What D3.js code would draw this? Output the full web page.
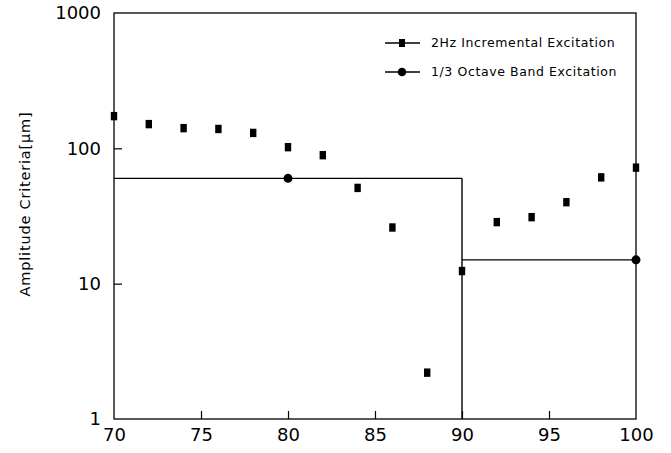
<!DOCTYPE html>
<html>
<head>
<meta charset="utf-8">
<script src="https://cdn.jsdelivr.net/npm/d3@7"></script>
<style>
  html, body { margin: 0; padding: 0; background: #fff; }
  svg { display: block; }
  text { font-family: "DejaVu Sans", sans-serif; fill: #000; }
</style>
</head>
<body>
<svg id="chart" width="671" height="453"></svg>
<script>
// ---- data ----
const freq2Hz = [70, 72, 74, 76, 78, 80, 82, 84, 86, 88, 90, 92, 94, 96, 98, 100];
const amp2Hz  = [173, 151, 141, 139, 130, 102, 89, 51, 26, 2.2, 12.4, 28.5, 31, 40, 61, 72];
const octaveFreq = [80, 100];
const octaveAmp  = [60, 15];
const bandEdges  = [70, 90, 100];
const bandLevels = [60, 15];
const xTicks = [70, 75, 80, 85, 90, 95, 100];
const yTicks = [1, 10, 100, 1000];
const legendLabels = ["2Hz Incremental Excitation", "1/3 Octave Band Excitation"];
const yLabel = "Amplitude Criteria[\u03bcm]";

// ---- layout ----
const svg = d3.select("#chart");
const L = 114, R = 636, T = 13, B = 419;
const x = d3.scaleLinear().domain([70, 100]).range([L, R]);
const y = d3.scaleLog().domain([1, 1000]).range([B, T]);

// frame
svg.append("rect").attr("x", L).attr("y", T).attr("width", R - L).attr("height", B - T)
  .attr("fill", "none").attr("stroke", "#000").attr("stroke-width", 1.3);

// axes (ticks inward)
const xAxis = d3.axisBottom(x).tickValues(xTicks).tickSize(-8).tickPadding(18).tickFormat(d3.format("d"));
const gx = svg.append("g").attr("transform", `translate(0,${B})`).call(xAxis);
gx.select(".domain").remove();
gx.selectAll(".tick line").attr("stroke", "#000").attr("stroke-width", 1.2)
  .filter(d => d === 70 || d === 100).remove();
gx.selectAll(".tick text").attr("font-size", 18).attr("font-family", "DejaVu Sans").attr("dy", "0.2em");

const yAxis = d3.axisLeft(y).tickValues(yTicks).tickSize(-8).tickPadding(13).tickFormat(d3.format("d"));
const gy = svg.append("g").attr("transform", `translate(${L},0)`).call(yAxis);
gy.select(".domain").remove();
gy.selectAll(".tick line").attr("stroke", "#000").attr("stroke-width", 1.2)
  .filter(d => d === 1 || d === 1000).remove();
gy.selectAll(".tick text").attr("font-size", 18).attr("font-family", "DejaVu Sans");

// y label
svg.append("text")
  .attr("transform", `translate(30,${(T + B) / 2 - 12}) rotate(-90)`)
  .attr("text-anchor", "middle")
  .attr("font-size", 14.5)
  .attr("letter-spacing", 0.8)
  .text(yLabel);

// 1/3 octave band step line
const stepG = svg.append("g").attr("fill", "none").attr("stroke", "#000").attr("stroke-width", 1.4);
bandLevels.forEach((lv, i) => {
  stepG.append("path").attr("d",
    `M${x(bandEdges[i])},${y(lv)}H${x(bandEdges[i + 1])}`);
});
// vertical drop at band boundary from first level down to axis
stepG.append("path").attr("d", `M${x(bandEdges[1])},${y(bandLevels[0])}V${y(1)}`);

// octave markers
svg.append("g").selectAll("circle").data(octaveFreq).join("circle")
  .attr("cx", d => x(d)).attr("cy", (d, i) => y(octaveAmp[i])).attr("r", 4.5).attr("fill", "#000");

// 2Hz markers (small tall squares)
svg.append("g").selectAll("rect").data(freq2Hz).join("rect")
  .attr("x", d => x(d) - 3.2).attr("y", (d, i) => y(amp2Hz[i]) - 4.2)
  .attr("width", 6.4).attr("height", 8.4).attr("fill", "#000");

// legend
const leg = svg.append("g");
const legY = [43, 72];
legY.forEach((ly, i) => {
  leg.append("line").attr("x1", 385).attr("x2", 420).attr("y1", ly).attr("y2", ly)
    .attr("stroke", "#000").attr("stroke-width", 1.6);
  if (i === 0) {
    leg.append("rect").attr("x", 399).attr("y", ly - 4).attr("width", 6).attr("height", 8).attr("fill", "#000");
  } else {
    leg.append("circle").attr("cx", 402).attr("cy", ly).attr("r", 4.3).attr("fill", "#000");
  }
  leg.append("text").attr("x", 431).attr("y", ly).attr("dy", "0.35em")
    .attr("font-size", 12.5).attr("letter-spacing", 0.6)
    .text(legendLabels[i]);
});
</script>
</body>
</html>
